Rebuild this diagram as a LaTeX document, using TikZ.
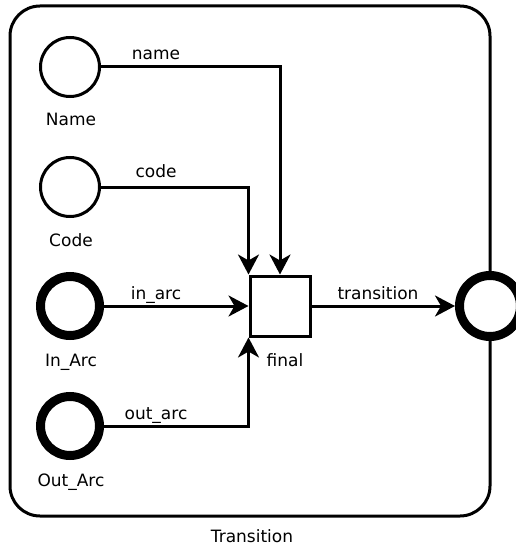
\documentclass[tikz,border=0pt]{standalone}
\usepackage{fontspec}
\setmainfont{DejaVu Sans}
\usetikzlibrary{arrows.meta}
\begin{document}
\begin{tikzpicture}[x=1pt,y=-1pt,
  every node/.style={font=\fontsize{17}{20}\selectfont},
  place/.style={circle,draw,line width=3pt,fill=white,minimum size=59pt,inner sep=0pt},
  portplace/.style={circle,draw,line width=9pt,fill=white,minimum size=59pt,inner sep=0pt},
  trans/.style={rectangle,draw,line width=3pt,fill=white,minimum size=60pt,inner sep=0pt},
  lbl/.style={anchor=base,inner sep=0pt},
  arc/.style={line width=3pt,-{Stealth[length=20pt,width=21pt,inset=6pt]}}]
\useasboundingbox (0,0) rectangle (515,548);
\draw[line width=3pt,rounded corners=30pt] (10,6) rectangle (490,516);
\node[place] (name) at (70,67) {};
\node[place] (code) at (70,187) {};
\node[portplace] (inarc) at (70,306) {};
\node[portplace] (outarc) at (70,426) {};
\node[trans] (final) at (280,306) {};
\node[circle,draw,line width=9pt,fill=white,minimum size=61pt,inner sep=0pt] (out) at (490,306) {};
\node[lbl] (lname) at (71,126) {Name};
\node[lbl] (lcode) at (71,246) {Code};
\node[lbl] (linarc) at (71,366) {In\_Arc};
\node[lbl] (loutarc) at (71,486) {Out\_Arc};
\node[lbl] (lfinal) at (285,366) {final};
\node[lbl] (ltitle) at (252,542) {Transition};
\draw[arc] (name.east) -| (final.north);
\draw[arc] (code.east) -| (final.north west);
\draw[arc] (inarc.east) -- (final.west);
\draw[arc] (outarc.east) -| (final.south west);
\draw[arc] (final.east) -- (out.west);
\node[lbl] (aname) at (156,60) {name};
\node[lbl] (acode) at (156,178) {code};
\node[lbl] (ainarc) at (156,299) {in\_arc};
\node[lbl] (aoutarc) at (156,419) {out\_arc};
\node[lbl] (atrans) at (378,299) {transition};
\end{tikzpicture}
\end{document}
